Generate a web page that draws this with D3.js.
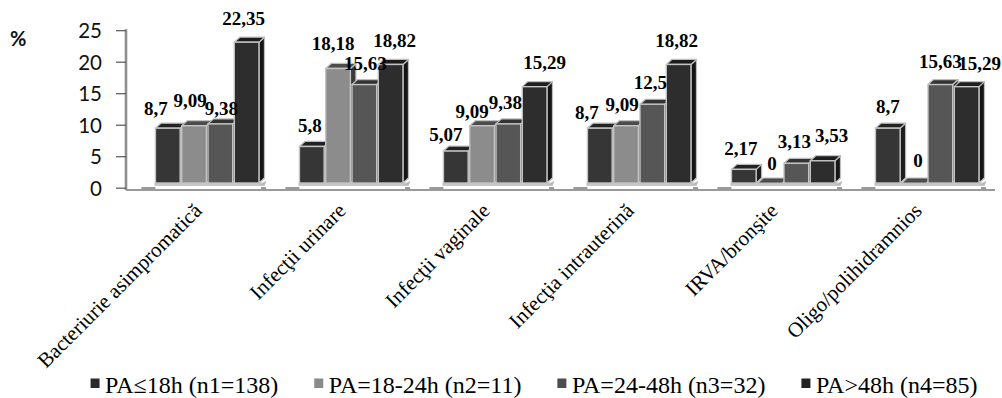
<!DOCTYPE html>
<html>
<head>
<meta charset="utf-8">
<script src="https://cdnjs.cloudflare.com/ajax/libs/d3/7.8.5/d3.min.js"></script>
<style>
  html, body { margin: 0; padding: 0; background: #ffffff; }
  svg { display: block; }
</style>
</head>
<body>
<div id="chart"></div>
<script>
// Categories of complications
const categories = [
  "Bacteriurie asimpromatică",
  "Infecţii urinare",
  "Infecţii vaginale",
  "Infecţia intrauterină",
  "IRVA/bronşite",
  "Oligo/polihidramnios"
];

// Series names (duration of ruptured membranes)
const seriesNames = [
  "PA≤18h (n1=138)",
  "PA=18-24h (n2=11)",
  "PA=24-48h (n3=32)",
  "PA>48h (n4=85)"
];

// Percentages per series, one value per category
const valuesLe18 = [8.7, 5.8, 5.07, 8.7, 2.17, 8.7];
const values18to24 = [9.09, 18.18, 9.09, 9.09, 0, 0];
const values24to48 = [9.38, 15.63, 9.38, 12.5, 3.13, 15.63];
const valuesGt48 = [22.35, 18.82, 15.29, 18.82, 3.53, 15.29];

// Y axis ticks
const yTicks = [0, 5, 10, 15, 20, 25];

// Small offsets for data labels so neighbouring labels do not collide [dx, dy]
const labelShift = [
  [[-12, 2], [-4, -4], [1, 6], [-3, -2]],
  [[-2, 1], [-5, -3], [1, 0], [4, -2]],
  [[-10, 5], [-10, 7], [-3, 0], [10, -3]],
  [[-13, 6], [-4, 0], [-2, 0], [-2, -2]],
  [[-3, 1], [2, 2], [-2, 0], [9, -4]],
  [[0, 0], [4, -1], [0, -2], [13, -2]]
];

const seriesValues = [valuesLe18, values18to24, values24to48, valuesGt48];

// Face colours for the 3D columns
const frontFill = ["#363636", "#8c8c8c", "#565656", "#2d2d2d"];
const topFill = ["#222222", "#4c4c4c", "#333333", "#1c1c1c"];
const sideFill = ["#1e1e1e", "#3a3a3a", "#2a2a2a", "#151515"];
const legendFill = ["#2b2b2b", "#8a8a8a", "#4d4d4d", "#222222"];

const W = 1002, H = 398;
const svg = d3.select("#chart").append("svg")
  .attr("width", W).attr("height", H)
  .attr("viewBox", `0 0 ${W} ${H}`);

const y = d3.scaleLinear().domain([0, 25]).range([187.7, 30.2]);
const x = d3.scaleBand().domain(categories).range([136, 1000])
  .paddingInner(0.27).paddingOuter(0.135);
const xs = d3.scaleBand().domain(d3.range(4)).range([0, x.bandwidth()]);

// depth of the 3D extrusion and lift of the column fronts above the axis zero
const DX = 5.5, DY = -5, LIFT = 4.7;
const barW = xs.bandwidth() - 1.6;
const base = y(0) - LIFT;

// Floor pieces under each group
const floor = svg.append("g");
categories.forEach(c => {
  const gx = x(c);
  floor.append("rect")
    .attr("x", gx - 14).attr("y", 187).attr("width", 14).attr("height", 3)
    .attr("fill", "#9a9a9a");
  floor.append("rect")
    .attr("x", gx + x.bandwidth() + 0.5).attr("y", 187).attr("width", 5).attr("height", 3)
    .attr("fill", "#9a9a9a");
  floor.append("rect")
    .attr("x", gx - 1).attr("y", base - 0.5).attr("width", x.bandwidth() + DX).attr("height", 3.5)
    .attr("fill", "#c6c6c6");
  floor.append("path")
    .attr("d", `M${gx + x.bandwidth() - 1},${base + 3} L${gx + x.bandwidth() + DX},${base + 3 + DY} L${gx + x.bandwidth() + DX},${base} Z`)
    .attr("fill", "#b0b0b0");
});

// Axis base line
svg.append("line")
  .attr("x1", 126).attr("x2", 995).attr("y1", 190).attr("y2", 190)
  .attr("stroke", "#9a9a9a").attr("stroke-width", 2);

// Y axis
const yAxis = d3.axisLeft(y).tickValues(yTicks).tickSize(10).tickPadding(14)
  .tickFormat(d3.format("d"));
const ya = svg.append("g").attr("transform", "translate(126,0)").call(yAxis);
ya.select(".domain")
  .attr("d", `M0,${y(25) - 1}V${190}`)
  .attr("stroke", "#8f8f8f").attr("stroke-width", 2.6);
ya.selectAll(".tick line").attr("stroke", "#555").attr("stroke-width", 1.2);
ya.selectAll(".tick text")
  .attr("font-family", "Lato, 'Open Sans', sans-serif")
  .attr("font-size", 20.5).attr("fill", "#111")
  .attr("dy", "0.36em");

svg.append("text")
  .attr("x", 10).attr("y", 46)
  .attr("font-family", "Lato, 'Open Sans', sans-serif")
  .attr("font-weight", "bold").attr("font-size", 20).attr("fill", "#111")
  .text("%");

// Columns
const bars = svg.append("g");
categories.forEach((c, ci) => {
  seriesValues.forEach((vals, si) => {
    const v = vals[ci];
    const x0 = x(c) + xs(si);
    const top = y(v) - LIFT;
    const g = bars.append("g");
    g.append("path")
      .attr("d", `M${x0 + barW},${top} L${x0 + barW + DX},${top + DY} L${x0 + barW + DX},${base + DY} L${x0 + barW},${base} Z`)
      .attr("fill", sideFill[si]).attr("stroke", "#bdbdbd").attr("stroke-width", 1.2)
      .attr("stroke-linejoin", "round");
    g.append("path")
      .attr("d", `M${x0},${top} L${x0 + DX},${top + DY} L${x0 + barW + DX},${top + DY} L${x0 + barW},${top} Z`)
      .attr("fill", topFill[si]).attr("stroke", "#bdbdbd").attr("stroke-width", 1.2)
      .attr("stroke-linejoin", "round");
    g.append("rect")
      .attr("x", x0).attr("y", top)
      .attr("width", barW).attr("height", Math.max(0, base - top))
      .attr("fill", frontFill[si]).attr("stroke", "#c4c4c4").attr("stroke-width", 1.4);
  });
});

// Data labels
const fmt = v => String(v).replace(".", ",");
const labels = svg.append("g")
  .attr("font-family", "'Liberation Serif', 'Times New Roman', serif")
  .attr("font-weight", "bold").attr("font-size", 19).attr("fill", "#000")
  .attr("text-anchor", "middle");
categories.forEach((c, ci) => {
  seriesValues.forEach((vals, si) => {
    const v = vals[ci];
    const cx = x(c) + xs(si) + barW / 2;
    const [dx, dy] = labelShift[ci][si];
    labels.append("text")
      .attr("x", cx + dx)
      .attr("y", y(v) - LIFT - 15 + dy)
      .text(fmt(v));
  });
});

// Category labels, rotated
const catG = svg.append("g")
  .attr("font-family", "'Liberation Serif', 'Times New Roman', serif")
  .attr("font-size", 21).attr("fill", "#000")
  .attr("text-anchor", "end");
categories.forEach(c => {
  const px = x(c) + x.bandwidth() / 2 - 5;
  const py = 212;
  catG.append("text")
    .attr("transform", `translate(${px},${py}) rotate(-45)`)
    .text(c);
});

// Legend
const legend = svg.append("g")
  .attr("font-family", "'Liberation Serif', 'Times New Roman', serif")
  .attr("font-size", 24).attr("fill", "#000");
let lx = 0;
const items = [];
seriesNames.forEach((name, i) => {
  const g = legend.append("g");
  g.append("rect").attr("x", 0).attr("y", -14.5).attr("width", 9).attr("height", 9.5)
    .attr("fill", legendFill[i]);
  const t = g.append("text").attr("x", 14.5).attr("y", 0).text(name);
  const w = 14.5 + t.node().getComputedTextLength();
  items.push({ g, start: lx });
  lx += w + 36;
});
const totalW = lx - 36;
const legendLeft = 534 - totalW / 2;
items.forEach(it => it.g.attr("transform", `translate(${legendLeft + it.start},393)`));
</script>
</body>
</html>
